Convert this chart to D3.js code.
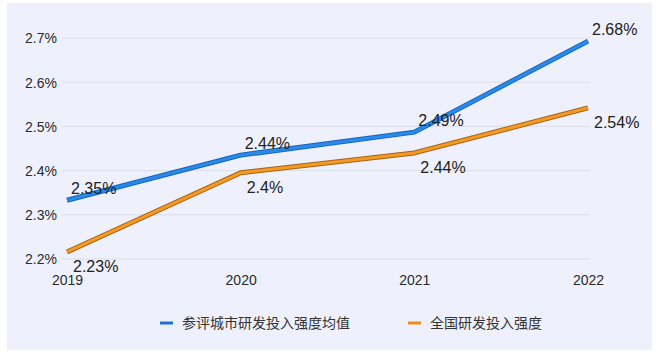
<!DOCTYPE html>
<html>
<head>
<meta charset="utf-8">
<script src="https://cdn.jsdelivr.net/npm/d3@7"></script>
<style>
  body { margin: 0; background: #ffffff; }
  text { font-family: "Liberation Sans", Arial, sans-serif; }
  .cjk { font-family: "Noto Sans CJK SC", "Noto Sans", sans-serif; }
</style>
</head>
<body>
<div id="chart"></div>
<script>
// datos del grafico
var years = ["2019", "2020", "2021", "2022"]
var cityAvg = [2.333, 2.435, 2.487, 2.693]
var national = [2.216, 2.395, 2.44, 2.542]
var cityLabels = ["2.35%", "2.44%", "2.49%", "2.68%"]
var nationalLabels = ["2.23%", "2.4%", "2.44%", "2.54%"]
var yTicks = [2.2, 2.3, 2.4, 2.5, 2.6, 2.7]
var seriesNames = ["参评城市研发投入强度均值", "全国研发投入强度"]

var ancho = 660, alto = 353

var svg = d3.select("#chart")
  .append("svg")
  .attr("width", ancho)
  .attr("height", alto)

// fondo
svg.append("rect")
  .attr("x", 7).attr("y", 3)
  .attr("width", 645).attr("height", 347)
  .attr("fill", "#eef1fb")

var x = d3.scalePoint()
  .domain(years)
  .range([67, 588])

var y = d3.scaleLinear()
  .domain([2.2, 2.7])
  .range([259, 38])

// lineas de la grilla
svg.selectAll("line.grid")
  .data(yTicks)
  .enter()
  .append("line")
  .attr("class", "grid")
  .attr("x1", 62)
  .attr("x2", 590)
  .attr("y1", d => y(d))
  .attr("y2", d => y(d))
  .style("stroke", "#d9dde8")
  .style("stroke-width", 1)

// eje y
var ejeY = svg.append("g")
  .attr("transform", "translate(57,0)")
  .call(d3.axisLeft(y).tickValues(yTicks).tickSize(0).tickPadding(0).tickFormat(d => d + "%"))
ejeY.select(".domain").remove()
ejeY.selectAll("text")
  .attr("dy", "0.35em")
  .style("font-size", "14px")
  .style("fill", "#2b2b2b")
  .style("font-family", "Liberation Sans, Arial, sans-serif")

// eje x
var ejeX = svg.append("g")
  .attr("transform", "translate(0,275)")
  .call(d3.axisBottom(x).tickSize(0).tickPadding(0))
ejeX.select(".domain").remove()
ejeX.selectAll("text")
  .attr("dy", "0.71em")
  .style("font-size", "14px")
  .style("fill", "#2b2b2b")
  .style("font-family", "Liberation Sans, Arial, sans-serif")

var linea = d3.line()
  .x((d, i) => x(years[i]))
  .y(d => y(d))

var series = [
  {vals: cityAvg, labels: cityLabels, dark: "#1463c4", light: "#2a8ae6", dy: -6, dx: 4},
  {vals: national, labels: nationalLabels, dark: "#a9621a", light: "#f29a22", dy: 20, dx: 6}
]

series.forEach(function(s) {
  svg.append("path")
    .attr("d", linea(s.vals))
    .attr("fill", "none")
    .attr("stroke", s.dark)
    .attr("stroke-width", 5)
    .attr("stroke-linejoin", "round")
  svg.append("path")
    .attr("d", linea(s.vals))
    .attr("fill", "none")
    .attr("stroke", s.light)
    .attr("stroke-width", 3)
    .attr("stroke-linejoin", "round")
})

series.forEach(function(s) {
  svg.selectAll(null)
    .data(s.vals)
    .enter()
    .append("text")
    .attr("x", (d, i) => x(years[i]) + s.dx)
    .attr("y", d => y(d) + s.dy)
    .style("font-size", "16px")
    .style("fill", "#222")
    .text((d, i) => s.labels[i])
})

// leyenda
var leyenda = [
  {name: seriesNames[0], color: "#1a72d6", x: 160},
  {name: seriesNames[1], color: "#ef8a1c", x: 408}
]
leyenda.forEach(function(l) {
  svg.append("line")
    .attr("x1", l.x).attr("x2", l.x + 13)
    .attr("y1", 323).attr("y2", 323)
    .attr("stroke", l.color)
    .attr("stroke-width", 3)
  svg.append("text")
    .attr("class", "cjk")
    .attr("x", l.x + 22)
    .attr("y", 323)
    .attr("dy", "0.35em")
    .style("font-size", "14px")
    .style("fill", "#333")
    .text(l.name)
})
</script>
</body>
</html>
